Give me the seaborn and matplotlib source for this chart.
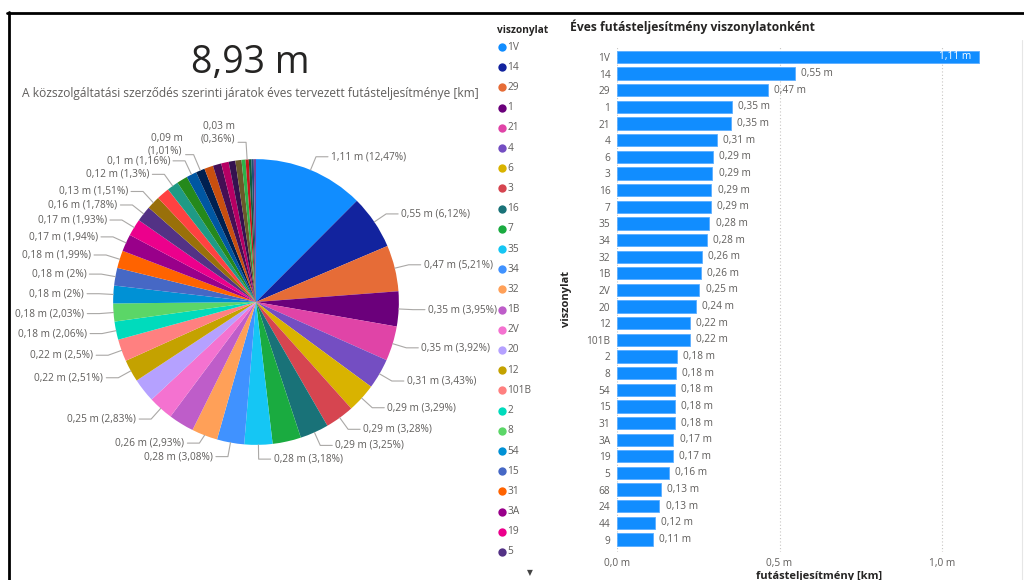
import matplotlib
matplotlib.use("Agg")
import matplotlib.pyplot as plt
import seaborn as sns
import numpy as np
import pandas as pd
from matplotlib.lines import Line2D

# ---------------- data ----------------
routes = ["1V", "14", "29", "1", "21", "4", "6", "3", "16", "7", "35", "34", "32", "1B",
          "2V", "20", "12", "101B", "2", "8", "54", "15", "31", "3A", "19", "5", "68",
          "24", "44", "9", "10", "11", "13", "17", "18", "22", "23", "25", "26", "27",
          "28", "30"]
km_million = [1.113571, 0.546516, 0.465253, 0.352735, 0.350056, 0.306299, 0.293797,
              0.292904, 0.290225, 0.287546, 0.283974, 0.275044, 0.261649, 0.257184,
              0.252719, 0.241110, 0.224143, 0.223250, 0.183958, 0.181279, 0.178600,
              0.178600, 0.177707, 0.173242, 0.172349, 0.158954, 0.134843, 0.129485,
              0.116090, 0.108946, 0.103588, 0.090193, 0.089300, 0.084835, 0.075905,
              0.066975, 0.062510, 0.040185, 0.032148, 0.026790, 0.023218, 0.022325]
# slices whose data label Power BI hid in the pie
hidden_pie_labels = ["7", "1B", "20", "24", "9", "13", "17", "18", "22", "23", "25",
                     "27", "28", "30"]
legend_routes = routes[:26]
bar_routes = routes[:30]
bar_values = km_million[:30]
x_ticks = [0.0, 0.5, 1.0]
x_tick_labels = ["0,0 m", "0,5 m", "1,0 m"]

kpi_subtitle = "A közszolgáltatási szerződés szerinti járatok éves tervezett futásteljesítménye [km]"
bar_title = "Éves futásteljesítmény viszonylatonként"

palette = ["#118DFF", "#12239E", "#E66C37", "#6B007B", "#E044A7", "#744EC2", "#D9B300",
           "#D64550", "#197278", "#1AAB40", "#15C6F4", "#4092FF", "#FFA058", "#BE5DC9",
           "#F472D0", "#B5A1FF", "#C4A200", "#FF8080", "#00DBBC", "#5BD667", "#0091D5",
           "#4668C5", "#FF6300", "#99008A", "#EC008C", "#533285", "#99700A", "#FF4141",
           "#1F9A85", "#25891C", "#0057A2", "#002050", "#C94F0F", "#450F54", "#B60064",
           "#34124F", "#6A5A29", "#2DB34A", "#C4161C", "#0F5C3A", "#1F4E79", "#7F3F98"]

# ---------------- helpers ----------------
def fmt_num(v):
    s = f"{v:.2f}".rstrip("0").rstrip(".")
    return s.replace(".", ",")

W, H = 1024, 580
sns.set_theme(style="white")
plt.rcParams["font.family"] = ["Open Sans", "DejaVu Sans"]
GRAY = "#605E5C"
DARK = "#252423"

fig = plt.figure(figsize=(W / 100, H / 100), dpi=100)
fig.patch.set_facecolor("white")

def fx(px):
    return px / W

def fy(py):
    return 1 - py / H

# frame lines
fig.add_artist(Line2D([fx(7), fx(1024)], [fy(12.5), fy(12.5)], color="black", lw=2.0))
fig.add_artist(Line2D([fx(8.5), fx(8.5)], [fy(12), fy(580)], color="black", lw=2.0))
fig.add_artist(Line2D([fx(1021.5), fx(1021.5)], [fy(40), fy(580)], color="#E6E6E6", lw=0.8))

# KPI card
total = sum(km_million)
fig.text(fx(250), fy(63), f"{fmt_num(total)} m", ha="center", va="center",
         fontsize=27, color=DARK)
fig.text(fx(250.5), fy(94), kpi_subtitle, ha="center", va="center", fontsize=8.65,
         color=GRAY)

# ---------------- pie ----------------
axp = fig.add_axes([fx(56), fy(502), 400 / W, 400 / H])
wedges, _ = axp.pie(km_million, colors=palette[:len(km_million)], startangle=90,
                    counterclock=False, radius=1.0, wedgeprops=dict(linewidth=0))
axp.set_xlim(-1.4, 1.4)
axp.set_ylim(-1.4, 1.4)
axp.set_axis_off()
unit = 400 / 2.8  # px per data unit

labels = []
for w, r, v in zip(wedges, routes, km_million):
    if r in hidden_pie_labels:
        continue
    pct = v / total * 100
    mid = np.deg2rad((w.theta1 + w.theta2) / 2)
    c, s = np.cos(mid), np.sin(mid)
    two_line = 90 < np.rad2deg(mid) % 360 < 115
    re = 1.12 if two_line else 1.1
    side = 1 if c >= -0.02 else -1
    labels.append(dict(v=v, pct=pct, c=c, s=s, two=two_line, re=re, side=side,
                       ly=re * s))

# simple vertical de-overlap per side (from the bottom upwards)
min_gap = 13.5 / unit
for side in (1, -1):
    group = sorted([l for l in labels if l["side"] == side and not l["two"]],
                   key=lambda l: l["ly"])
    for a, b in zip(group[:-1], group[1:]):
        if b["ly"] - a["ly"] < min_gap:
            b["ly"] = a["ly"] + min_gap

for l in labels:
    c, s, side = l["c"], l["s"], l["side"]
    seg = (8 if l["two"] else 12) / unit
    gap = 3 / unit
    x0, y0 = c, s
    x1, y1 = l["re"] * c, l["ly"]
    x2 = x1 + side * seg
    axp.plot([x0, x1, x2], [y0, y1, y1], color="#AAA8A6", lw=0.8, clip_on=False)
    if l["two"]:
        txt = f"{fmt_num(l['v'])} m\n({fmt_num(l['pct'])}%)"
        axp.text(x2 + side * gap, y1 - 2 / unit, txt, ha="right", va="bottom",
                 fontsize=7.3, color=GRAY, linespacing=1.15)
    else:
        txt = f"{fmt_num(l['v'])} m ({fmt_num(l['pct'])}%)"
        axp.text(x2 + side * gap, y1, txt, ha="left" if side > 0 else "right",
                 va="center", fontsize=7.3, color=GRAY)

# ---------------- legend ----------------
fig.text(fx(497), fy(31), "viszonylat", ha="left", va="center", fontsize=7.3,
         color=DARK, fontweight="bold")
for i, (r, col) in enumerate(zip(legend_routes, palette)):
    yy = 47 + i * 20.2
    fig.add_artist(Line2D([fx(501.5)], [fy(yy)], marker="o", markersize=6,
                          color=col, markeredgewidth=0))
    fig.text(fx(507.5), fy(yy), r, ha="left", va="center", fontsize=7.3, color=GRAY)
fig.text(fx(530), fy(573), "▼", ha="center", va="center", fontsize=5.5, color="#444444",
         family="DejaVu Sans")

# ---------------- bar chart ----------------
left_px, right_px, top_px, bot_px = 617.3, 1020, 46, 552
axb = fig.add_axes([fx(left_px), fy(bot_px), (right_px - left_px) / W, (bot_px - top_px) / H])
df = pd.DataFrame({"viszonylat": bar_routes, "km": bar_values})
sns.barplot(data=df, x="km", y="viszonylat", orient="h", color="#118DFF", saturation=1,
            width=0.74, edgecolor="#5DAEFF", linewidth=0.6, ax=axb, zorder=3)
xmax = (right_px - left_px) / 324.4
axb.set_xlim(0, xmax)
axb.set_ylim(29.75, -0.661)
for sp in axb.spines.values():
    sp.set_visible(False)
axb.set_xticks(x_ticks)
axb.set_xticklabels(x_tick_labels)
axb.tick_params(axis="both", length=0, labelsize=7.3, labelcolor=GRAY)
axb.tick_params(axis="x", pad=4)
axb.tick_params(axis="y", pad=5)
axb.xaxis.grid(True, linestyle=(0, (1, 2)), color="#C8C6C4", lw=0.8, zorder=0)
axb.yaxis.grid(False)
axb.set_axisbelow(True)
axb.set_xlabel("futásteljesítmény [km]", fontsize=8, color=DARK, fontweight="bold",
               labelpad=1.5)
axb.set_ylabel("viszonylat", fontsize=8, color=DARK, fontweight="bold", labelpad=10)
for i, v in enumerate(bar_values):
    lab = f"{fmt_num(v)} m"
    if v / xmax > 0.8:
        axb.annotate(lab, (v, i), xytext=(-5, 0), textcoords="offset points",
                     ha="right", va="center", fontsize=7.3, color="white")
    else:
        axb.annotate(lab, (v, i), xytext=(4.5, 0), textcoords="offset points",
                     ha="left", va="center", fontsize=7.3, color=GRAY)

fig.text(fx(570), fy(27), bar_title, ha="left", va="center", fontsize=8.7, color=DARK,
         fontweight="bold")

fig.savefig("out.png", dpi=100)
